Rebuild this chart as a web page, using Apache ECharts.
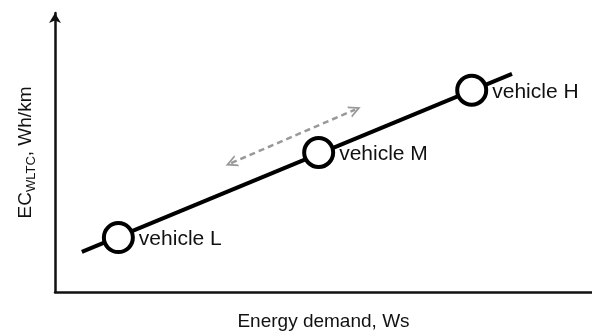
<!DOCTYPE html>
<html>
<head>
<meta charset="utf-8">
<script src="https://cdn.jsdelivr.net/npm/echarts@6/dist/echarts.min.js"></script>
<style>html,body{margin:0;padding:0;background:#fff;}#c{width:592px;height:336px;}</style>
</head>
<body>
<div id="c"></div>
<script>
// Data (abstract units, axes 0-100)
const trendX = [5.0, 85.1];
const trendY = [14.4, 78.2];
const vehicleNames = ['vehicle L', 'vehicle M', 'vehicle H'];
const vehicleX = [11.8, 49.1, 77.6];
const vehicleY = [19.5, 50.0, 72.3];
const arrowStart = [32.8, 46.2];
const arrowEnd = [55.9, 65.4];
const xTitle = 'Energy demand, Ws';
const yTitleMain = 'EC';
const yTitleSub = 'WLTC';
const yTitleUnit = ', Wh/km';

const chart = echarts.init(document.getElementById('c'));
const font = 'Liberation Sans, Arial, sans-serif';
chart.setOption({
  animation: false,
  grid: { left: 55, right: 0, top: 13, bottom: 43 },
  xAxis: {
    type: 'value', min: 0, max: 100,
    axisLine: { show: true, lineStyle: { color: '#111', width: 2.5 } },
    axisTick: { show: false }, axisLabel: { show: false }, splitLine: { show: false },
    name: xTitle, nameLocation: 'middle', nameGap: 20,
    nameTextStyle: { fontFamily: font, fontSize: 19, color: '#111' }
  },
  yAxis: {
    type: 'value', min: 0, max: 100,
    axisLine: { show: true, symbol: ['none', 'arrow'], symbolSize: [9, 10], lineStyle: { color: '#111', width: 2.5 } },
    axisTick: { show: false }, axisLabel: { show: false }, splitLine: { show: false },
    name: '{a|' + yTitleMain + '}{b|' + yTitleSub + '}{a|' + yTitleUnit + '}',
    nameLocation: 'middle', nameGap: 17, nameRotate: 90,
    nameTextStyle: {
      fontFamily: font, color: '#111',
      rich: {
        a: { fontFamily: font, fontSize: 19, color: '#111', lineHeight: 24 },
        b: { fontFamily: font, fontSize: 13, color: '#111', padding: [10, 0, 0, 0] }
      }
    }
  },
  series: [
    {
      type: 'line',
      data: trendX.map((x, i) => [x, trendY[i]]),
      showSymbol: false, symbol: 'none',
      lineStyle: { color: '#000', width: 4 },
      z: 2
    },
    {
      type: 'lines',
      coordinateSystem: 'cartesian2d',
      data: [{ coords: [arrowStart, arrowEnd] }],
      symbol: ['path://M0,10 L5,0 L10,10 L8.4,10 L5,3.4 L1.6,10 Z', 'path://M0,10 L5,0 L10,10 L8.4,10 L5,3.4 L1.6,10 Z'],
      symbolSize: 12,
      lineStyle: { color: '#999', width: 2.5, type: [6, 4], opacity: 1 },
      itemStyle: { color: '#999' },
      z: 2
    },
    {
      type: 'scatter',
      data: vehicleX.map((x, i) => ({ value: [x, vehicleY[i]], name: vehicleNames[i] })),
      symbol: 'circle', symbolSize: 29,
      itemStyle: { color: '#fff', borderColor: '#000', borderWidth: 4, opacity: 1 },
      label: {
        show: true, position: 'right', distance: 4, offset: [0, 2],
        formatter: p => p.name,
        fontFamily: font, fontSize: 21, color: '#111'
      },
      z: 3
    }
  ]
});
</script>
</body>
</html>
